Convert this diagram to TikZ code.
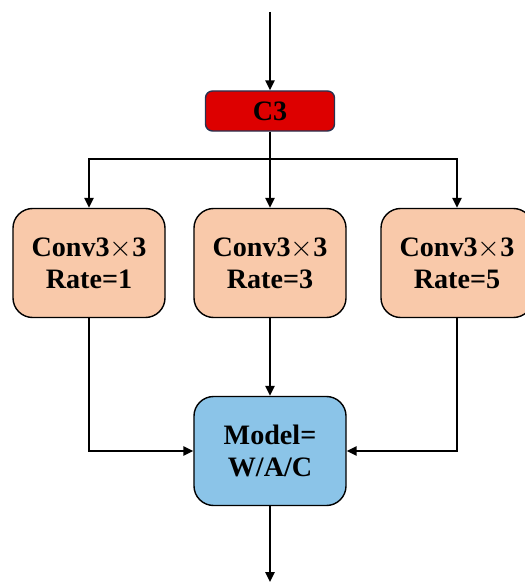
\documentclass[tikz,border=0pt]{standalone}
\usepackage{fontspec}
\setmainfont{Liberation Serif}
\usetikzlibrary{arrows.meta, positioning}
\definecolor{c3red}{RGB}{221, 0, 0}
\definecolor{c3edge}{RGB}{40, 50, 80}
\definecolor{convpeach}{RGB}{249, 201, 170}
\definecolor{modelblue}{RGB}{139, 196, 232}

\tikzset{
  boxfont/.style={font=\fontsize{20}{23}\selectfont\bfseries},
  convbox/.style={draw=black, fill=convpeach, rounded corners=14pt, line width=1pt,
    minimum width=3.8cm, minimum height=2.725cm, align=center, boxfont},
  modelbox/.style={convbox, fill=modelblue},
  flow/.style={line width=1.5pt, -{Triangle[length=7pt, width=6.5pt]}}
}

\begin{document}
\begin{tikzpicture}[x=0.025cm, y=-0.025cm]
  \useasboundingbox (0,0) rectangle (524,582);

  % C3 block
  \node[draw=c3edge, fill=c3red, rounded corners=5pt, line width=1pt,
        minimum width=3.225cm, minimum height=1cm, boxfont] (c3) at (270,111) {C3};

  % three dilated branches
  \node[convbox] (conv1) at (89,263) {Conv3$\times$3\\Rate=1};
  \node[convbox] (conv3) at (270,263) {Conv3$\times$3\\Rate=3};
  \node[convbox] (conv5) at (457,263) {Conv3$\times$3\\Rate=5};

  % fusion
  \node[modelbox] (model) at (270,451) {Model=\\W/A/C};

  \coordinate (in) at (270,12);
  \coordinate (split) at (270,159);
  \coordinate (out) at (270,582);

  \draw[flow] (in) -- (c3);
  \draw[flow] (c3) -- (conv3);
  \draw[flow] (split) -| (conv1);
  \draw[flow] (split) -| (conv5);

  \draw[flow] (conv1) |- (model);
  \draw[flow] (conv3) -- (model);
  \draw[flow] (conv5) |- (model);
  \draw[flow] (model) -- (out);
\end{tikzpicture}
\end{document}
